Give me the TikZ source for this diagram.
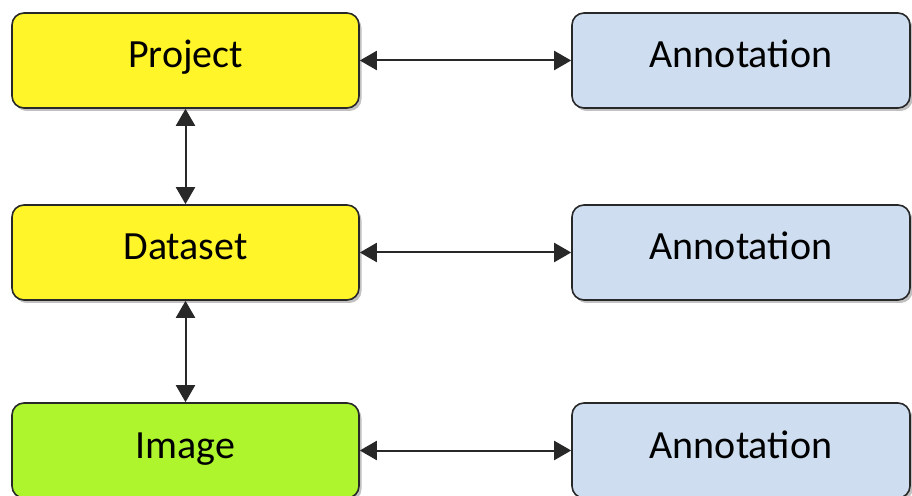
\documentclass[tikz,border=0pt]{standalone}
\usepackage{fontspec}
\setmainfont{Carlito}
\usetikzlibrary{shadows,arrows.meta}
\definecolor{boxyellow}{RGB}{255,245,40}
\definecolor{boxgreen}{RGB}{174,245,45}
\definecolor{boxblue}{RGB}{206,222,240}
\definecolor{edge}{RGB}{40,40,40}
\tikzset{
  box/.style={draw=edge, line width=1.6pt, rounded corners=12pt, minimum height=95pt,
    inner sep=0pt, text height=25pt, text depth=10pt,
    font=\fontsize{40}{46}\selectfont, text=black,
    drop shadow={shadow xshift=2.5pt, shadow yshift=-3pt, opacity=0.35, fill=black!70}},
  leftbox/.style={box, minimum width=347pt},
  annbox/.style={box, minimum width=338pt, fill=boxblue},
  link/.style={draw=edge, line width=2pt, {Triangle[length=17pt,width=19pt]}-{Triangle[length=17pt,width=19pt]}}
}
\begin{document}
\begin{tikzpicture}[x=1pt,y=1pt]
\useasboundingbox (0,0) rectangle (912,495);
\node[leftbox, fill=boxyellow] (project) at (185.5,434.5) {Project};
\node[leftbox, fill=boxyellow] (dataset) at (185.5,242.5) {Dataset};
\node[leftbox, fill=boxgreen] (image) at (185.5,44.5) {Image};
\node[annbox] (ann1) at (741,434.5) {Annotation};
\node[annbox] (ann2) at (741,242.5) {Annotation};
\node[annbox] (ann3) at (741,44.5) {Annotation};
\draw[link] (project.east) -- (ann1.west);
\draw[link] (dataset.east) -- (ann2.west);
\draw[link] (image.east) -- (ann3.west);
\draw[link] (project.south) -- (dataset.north);
\draw[link] (dataset.south) -- (image.north);
\end{tikzpicture}
\end{document}
